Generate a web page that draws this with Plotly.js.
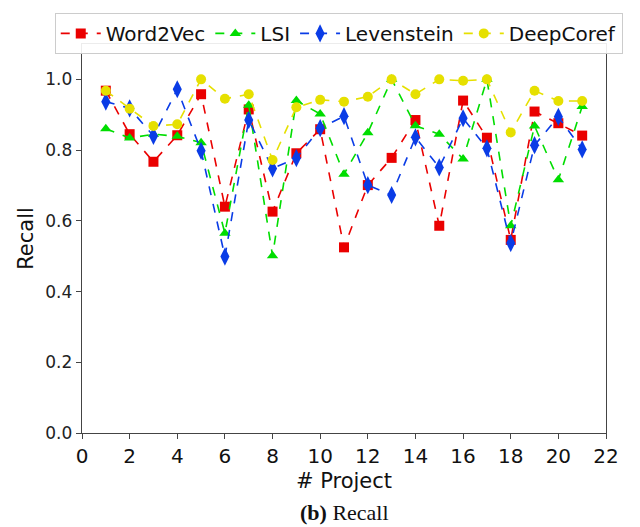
<!DOCTYPE html>
<html>
<head>
<meta charset="utf-8">
<script src="https://cdn.plot.ly/plotly-3.0.1.min.js"></script>
<style>html,body{margin:0;padding:0;background:#fff;}#chart{width:640px;height:527px;}</style>
</head>
<body>
<div id="chart"></div>
<script>
const projects = [1,2,3,4,5,6,7,8,9,10,11,12,13,14,15,16,17,18,19,20,21];
const word2vec = [0.968,0.845,0.767,0.842,0.958,0.640,0.915,0.626,0.791,0.859,0.525,0.701,0.778,0.885,0.586,0.940,0.835,0.546,0.909,0.876,0.841];
const lsi      = [0.860,0.834,0.845,0.839,0.821,0.565,0.927,0.501,0.940,0.902,0.732,0.849,1.000,0.869,0.845,0.775,1.000,0.586,0.868,0.716,0.923];
const levenstein = [0.937,0.918,0.840,0.972,0.798,0.499,0.885,0.748,0.777,0.862,0.896,0.701,0.673,0.836,0.751,0.890,0.805,0.537,0.814,0.894,0.802];
const deepcoref  = [0.968,0.917,0.868,0.873,1.000,0.945,0.958,0.772,0.921,0.942,0.937,0.951,1.000,0.958,1.000,0.996,1.000,0.850,0.968,0.939,0.939];
const seriesNames = ['Word2Vec','LSI','Levenstein','DeepCoref'];
const xTicks = [0,2,4,6,8,10,12,14,16,18,20,22];
const yTicks = [0.0,0.2,0.4,0.6,0.8,1.0];

const colors = ['#ea0000','#00dd00','#0a3ce6','#e6e000'];
const symbols = ['square','triangle-up','diamond-tall','circle'];
const sizes = [10,10,13,10];
const data = [word2vec, lsi, levenstein, deepcoref].map((ys,i)=>({
  x: projects, y: ys, name: seriesNames[i], type:'scatter', mode:'lines+markers',
  line:{color:colors[i], width:1.6, dash:'dash'},
  marker:{color:colors[i], symbol:symbols[i], size:sizes[i], line:{width:0}}
}));

const layout = {
  width:640, height:527,
  margin:{l:82, r:34, t:44, b:94},
  paper_bgcolor:'#fff', plot_bgcolor:'#fff',
  font:{family:'DejaVu Sans', color:'#222'},
  showlegend:true,
  legend:{orientation:'h', x:-0.052, y:1.08, xanchor:'left', yanchor:'top',
    bgcolor:'rgba(255,255,255,0.9)', bordercolor:'#cccccc', borderwidth:1,
    font:{family:'DejaVu Sans', size:20, color:'#111'}, itemwidth:40, tracegroupgap:0},
  xaxis:{range:[0,22], tickvals:xTicks, ticktext:xTicks.map(String), showgrid:false, zeroline:false,
    showline:true, linecolor:'#444', linewidth:1.3, mirror:true, ticks:'outside', ticklen:5, tickcolor:'#444',
    tickfont:{family:'DejaVu Sans', size:20, color:'#111'},
    title:{text:'# Project', font:{family:'DejaVu Sans', size:21, color:'#111'}, standoff:6}},
  yaxis:{range:[0,1.1], tickvals:yTicks, ticktext:yTicks.map(v=>v.toFixed(1)), showgrid:false, zeroline:false,
    showline:true, linecolor:'#444', linewidth:1.3, mirror:true, ticks:'outside', ticklen:5, tickcolor:'#444',
    tickfont:{family:'DejaVu Sans', size:17, color:'#222'},
    title:{text:'Recall', font:{family:'DejaVu Sans', size:21, color:'#111'}, standoff:6}},
  annotations:[{xref:'paper', yref:'paper', x:0.5, y:-0.205, xanchor:'center', yanchor:'middle',
    text:'<b>(b)</b> Recall', showarrow:false, font:{family:'Liberation Serif', size:22, color:'#111'}}]
};
Plotly.newPlot('chart', data, layout, {displayModeBar:false, staticPlot:true});
</script>
</body>
</html>
